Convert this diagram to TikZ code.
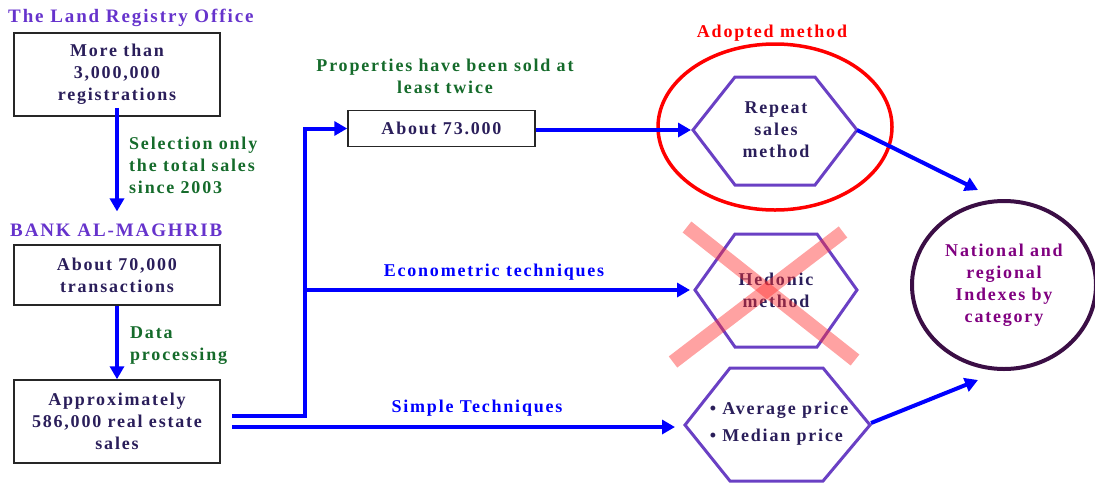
\documentclass[tikz,border=0pt]{standalone}
\usepackage{fontspec}
\setmainfont{Liberation Serif}[LetterSpace=10]
\usetikzlibrary{arrows.meta,calc,shapes.geometric}
\definecolor{navy}{HTML}{2A1E5A}
\definecolor{hpurple}{HTML}{6633CC}
\definecolor{dgreen}{HTML}{156B2B}
\definecolor{hexc}{HTML}{6A40C4}
\definecolor{circc}{HTML}{3B0E45}
\definecolor{ctext}{HTML}{800080}
\definecolor{blu}{HTML}{0000FF}
\definecolor{xred}{HTML}{FF3030}
\begin{document}
\begin{tikzpicture}[x=1pt,y=-1pt,
 font=\fontsize{18}{22}\selectfont\bfseries,
 box/.style={draw=black!85, line width=1.5pt, text=navy, align=center, inner sep=0pt},
 arr/.style={draw=blu, line width=4pt, -{Triangle[length=13pt,width=14pt]}},
 ln/.style={draw=blu, line width=4pt},
 hexs/.style={draw=hexc, line width=3pt},
 hext/.style={text=navy, align=center, inner sep=0pt},
 head/.style={text=hpurple, anchor=west, inner sep=0pt, font=\fontsize{19}{22}\selectfont\bfseries},
 note/.style={text=dgreen, align=left, anchor=west, inner sep=0pt},
 elab/.style={text=blu, inner sep=0pt},
]
\useasboundingbox (0,0) rectangle (1095,483);

% left column
\node[head] (lro) at (8,18) {The Land Registry Office};
\node[box, minimum width=206pt, minimum height=83pt] (b1) at (117,74.5) {More than\\3,000,000\\registrations};
\node[note] (n1) at (129,165) {Selection only\\the total sales\\since 2003};
\node[head] (bank) at (10,230) {BANK AL-MAGHRIB};
\node[box, minimum width=206pt, minimum height=60pt] (b2) at (117,275) {About 70,000\\transactions};
\node[note] (n2) at (130,346) {Data\\processing};
\node[box, minimum width=206pt, minimum height=83pt] (b3) at (117,421.5) {Approximately\\586,000 real estate\\sales};

\draw[arr] ([yshift=9pt]b1.south) -- ([yshift=12pt]b1.south |- bank.north);
\draw[arr] (b2.south) -- (b3.north);

% middle
\node[text=dgreen, align=center, inner sep=0pt] (n3) at (445,76) {Properties have been sold at\\least twice};
\node[box, minimum width=187pt, minimum height=36pt] (b4) at (441.5,128.5) {About 73.000};

% hexagons
\draw[hexs] (693,130) -- (735,77) -- (815,77) -- (857,130) -- (815,185) -- (735,185) -- cycle;
\coordinate (h1w) at (693,130);
\coordinate (h1e) at (857,130);
\node[hext] (hx1) at (776,130) {Repeat\\sales\\method};

\draw[hexs] (695,290) -- (735,234) -- (817,234) -- (857,290) -- (817,347) -- (735,347) -- cycle;
\coordinate (h2w) at (695,290);
\node[hext] (hx2) at (776,290) {Hedonic\\method};

\draw[hexs] (685,425) -- (730,368) -- (823,368) -- (870,425) -- (823,481) -- (730,481) -- cycle;
\coordinate (h3w) at (685,425);
\coordinate (h3e) at (871,423);
\node[hext, align=left] (hx3) at (779,424) {\textbullet\ Average price\\[5pt]\textbullet\ Median price};

% red ellipse and label
\draw[red, line width=3.5pt] (775,127) ellipse [x radius=117, y radius=83];
\node[text=red, inner sep=0pt] (adopt) at (772,33) {Adopted method};

% red cross
\draw[xred, opacity=0.45, line width=14pt] (687,227) -- (855,360);
\draw[xred, opacity=0.45, line width=14pt] (843,232) -- (673,362);

% circle
\node[draw=circc, line width=4pt, ellipse, minimum width=184pt, minimum height=168pt, text=ctext, align=center, inner sep=0pt] (idx) at (1004,285) {National and\\regional\\Indexes by\\category};

% connectors
\coordinate (s1) at (232,416);
\coordinate (s2) at (232,427);
\coordinate (j1) at (305,416);
\coordinate (j2) at (305,290);
\draw[arr] (s1) -- (j1) |- (b4.west);
\draw[arr] (j2) -- ([xshift=-5pt]h2w);
\draw[arr] (s2) -- ([xshift=-10pt]h3w |- s2);
\draw[arr] (b4.east |- h1w) -- ([xshift=-2pt]h1w);
\coordinate (c1) at (978,190);
\coordinate (c2) at (978,380);
\draw[arr] (h1e) -- (c1);
\draw[arr] (h3e) -- (c2);

\node[elab] (e1) at (494,272) {Econometric techniques};
\node[elab] (e2) at (477,408) {Simple Techniques};
\end{tikzpicture}
\end{document}
